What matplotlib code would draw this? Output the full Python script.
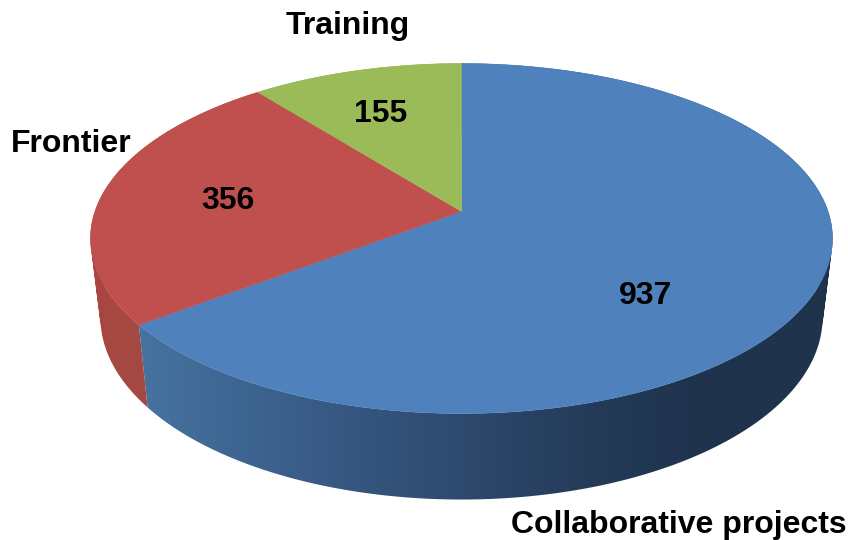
#!/usr/bin/env python3
"""Perspective 3D pie of project counts, drawn by hand since matplotlib has no 3D pie."""

from __future__ import annotations

import matplotlib

matplotlib.use("Agg")

import matplotlib.pyplot as plt
import numpy as np
from matplotlib.patches import PathPatch
from matplotlib.path import Path

categories = ["Collaborative projects", "Frontier", "Training"]
values = [937, 356, 155]
colors = ["#4f81bd", "#c0504d", "#9bbb59"]

label_pos = [(678.5, 524.5), (71, 143.5), (347, 25.5)]
value_pos = [(645, 295.5), (227, 200.5), (380, 113.5)]

# wall shading: (screen x, colour) stops per slice
wall_stops = {
    0: ([145, 300, 450, 600, 700], ["#46729f", "#3a5d89", "#2e4b70", "#243a57", "#1f334d"]),
    1: ([90, 145], ["#a9463f", "#a34a43"]),
    2: ([0, 848], ["#7d9647", "#7d9647"]),
}

# pixel geometry of the perspective pie
APEX_X, APEX_Y = 461.0, 211.0
HALF_W = 366.6
PERSP = 0.1543
Y_GAIN = -138.3
TOP_CY, TOP_B, TOP_A = 238.0, 175.0, 371.0
LOW_CY, LOW_B, LOW_A = 317.0, 182.0, 361.0


def project(theta: np.ndarray) -> tuple[np.ndarray, np.ndarray]:
    """Map clockwise-from-top angles on the pie rim to pixels."""
    u = np.sin(theta)
    v = np.cos(theta)
    w = 1 + PERSP * v
    return APEX_X + HALF_W * u / w, (Y_GAIN * v + APEX_Y) / w


def lower_rim(x: np.ndarray, y: np.ndarray) -> tuple[np.ndarray, np.ndarray]:
    nx = (x - APEX_X) / TOP_A
    ny = (y - TOP_CY) / TOP_B
    return APEX_X + LOW_A * nx, LOW_CY + LOW_B * ny


def wall_gradient(idx: int) -> np.ndarray:
    stops, cols = wall_stops[idx]
    rgb = np.array([matplotlib.colors.to_rgb(c) for c in cols])
    xs = np.arange(848) + 0.5
    row = np.column_stack([np.interp(xs, stops, rgb[:, k]) for k in range(3)])
    return row[np.newaxis, :, :]


def wall_path(x: np.ndarray, y: np.ndarray, lx: np.ndarray, ly: np.ndarray) -> Path:
    """Union of the quads between both rims, all wound the same way."""
    quads = []
    for k in range(len(x) - 1):
        quad = np.array([[x[k], y[k]], [x[k + 1], y[k + 1]], [lx[k + 1], ly[k + 1]], [lx[k], ly[k]]])
        area = np.sum(quad[:, 0] * np.roll(quad[:, 1], -1) - np.roll(quad[:, 0], -1) * quad[:, 1])
        if area < 0:
            quad = quad[::-1]
        # closed=True swallows the last vertex, so repeat the first one
        quads.append(Path(np.vstack([quad, quad[:1]]), closed=True))
    return Path.make_compound_path(*quads)


def main() -> None:
    fig = plt.figure(figsize=(8.48, 5.40), dpi=100)
    ax = fig.add_axes([0, 0, 1, 1])
    ax.axis("off")

    edges = np.concatenate([[0], np.cumsum(values)]) / np.sum(values) * 2 * np.pi

    # walls first, the top faces cover whatever is behind
    for i in range(len(values)):
        theta = np.linspace(edges[i], edges[i + 1], 300)
        x, y = project(theta)
        lx, ly = lower_rim(x, y)
        img = ax.imshow(wall_gradient(i), extent=(-0.5, 847.5, 539.5, -0.5), aspect="auto", interpolation="bilinear")
        outline = PathPatch(wall_path(x, y, lx, ly), facecolor="none", edgecolor="none")
        ax.add_patch(outline)
        img.set_clip_path(outline)

    for i in range(len(values)):
        theta = np.linspace(edges[i], edges[i + 1], 300)
        x, y = project(theta)
        ax.fill(
            np.concatenate([[APEX_X], x]),
            np.concatenate([[APEX_Y], y]),
            color=colors[i],
            linewidth=0.3,
        )

    ax.set_xlim(-0.5, 847.5)
    ax.set_ylim(539.5, -0.5)

    text_style = dict(family="Liberation Sans", fontweight="bold", color="black", ha="center", va="center")
    for name, pos in zip(categories, label_pos):
        ax.text(pos[0], pos[1], name, fontsize=23, **text_style)
    for val, pos in zip(values, value_pos):
        ax.text(pos[0], pos[1], str(val), fontsize=23, **text_style)

    fig.savefig("out.png", dpi=100, facecolor="white")
    plt.close(fig)


if __name__ == "__main__":
    main()
